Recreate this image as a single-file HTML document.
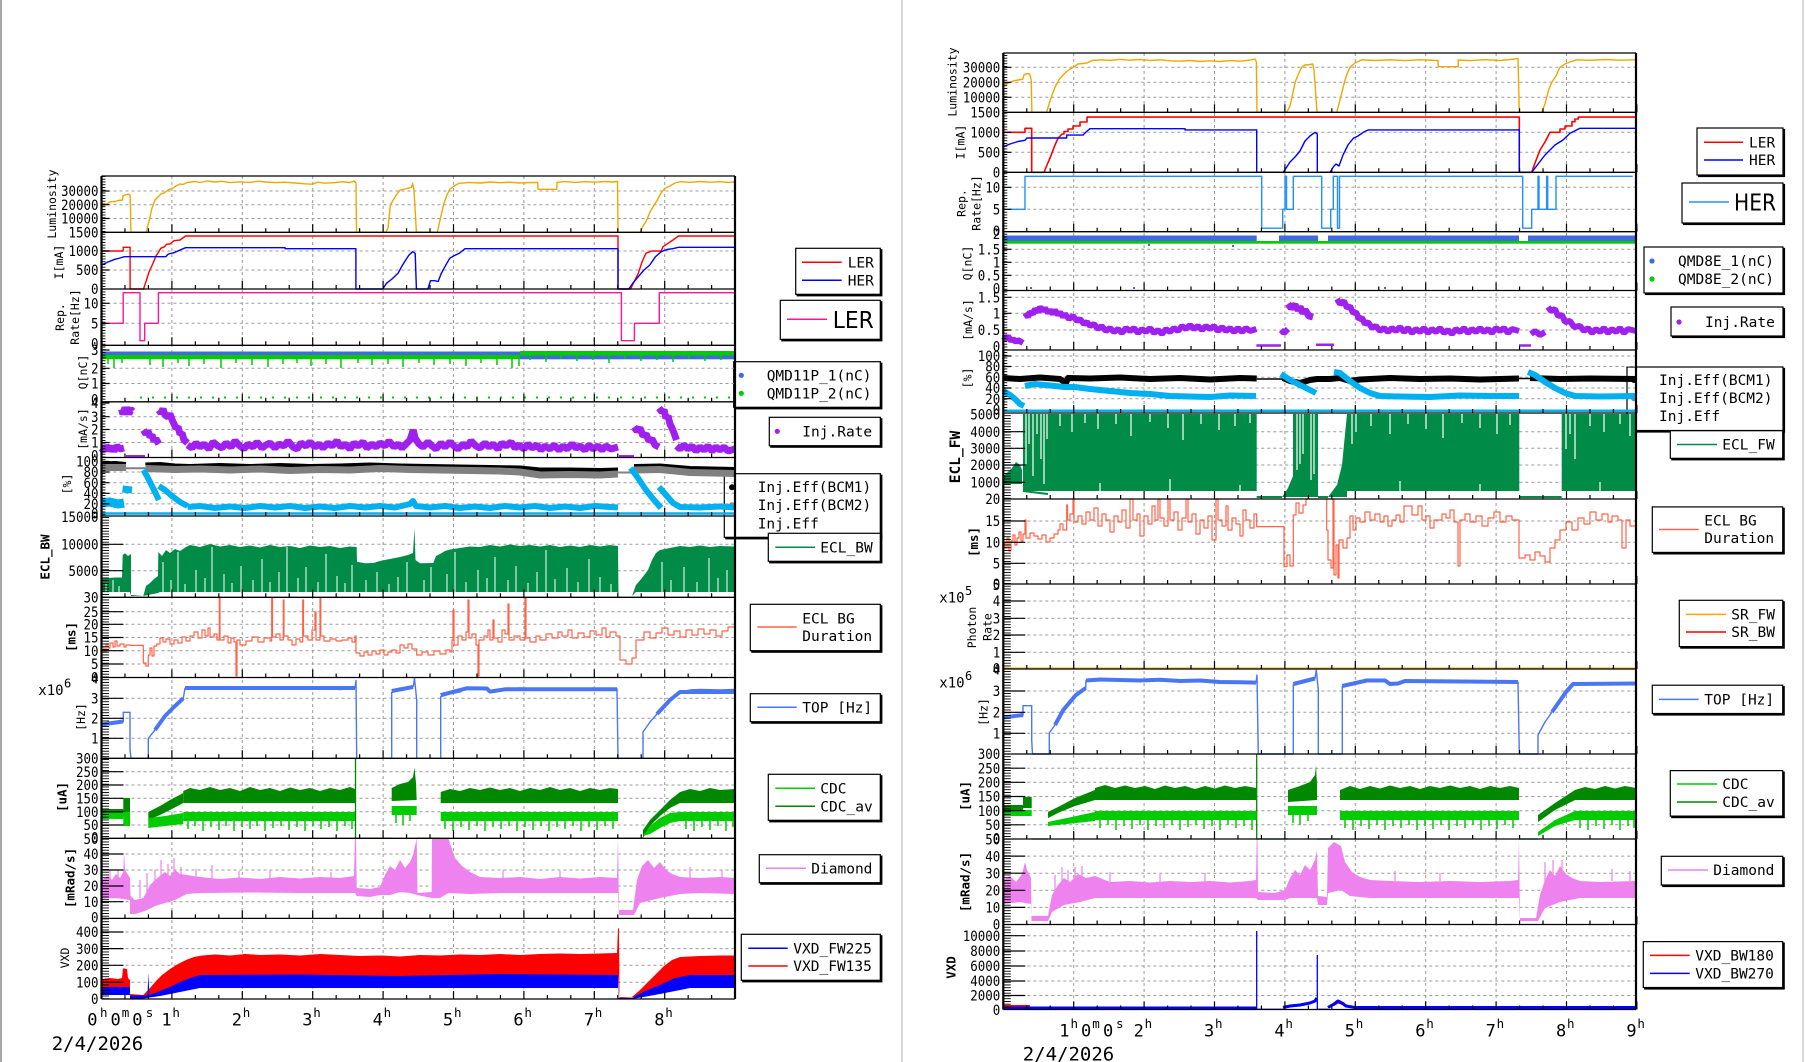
<!DOCTYPE html>
<html><head><meta charset="utf-8"><style>
html,body{margin:0;padding:0;background:#fff;}
body{width:1806px;height:1062px;overflow:hidden;}
svg{display:block;}
text{font-family:"DejaVu Sans Mono","Liberation Mono",monospace;fill:#000;}
.tl{font-size:14.5px;}
.ti{font-size:11.5px;}
.tb{font-size:12.5px;font-weight:bold;}
.lg{font-size:14.5px;}
.big{font-family:"DejaVu Sans","Liberation Sans",sans-serif;font-size:23px;}
.ax{font-size:17px;}
.sup{font-size:12.5px;}
.gr{stroke:#9a9a9a;stroke-width:1;stroke-dasharray:3 3;fill:none;}
.ln{fill:none;stroke-linejoin:round;}
.jg{fill:none;stroke-linejoin:bevel;}
</style></head><body>
<svg width="1806" height="1062" viewBox="0 0 1806 1062" xmlns="http://www.w3.org/2000/svg">
<defs>
<pattern id="cm" x="0" y="0" width="20" height="2.75" patternUnits="userSpaceOnUse"><rect x="0" y="0" width="20" height="0.9" fill="#000"/></pattern>
<path id="xt" d="M0,0v-8M23.47,0v-4M46.93,0v-4M70.4,0v-8M93.87,0v-4M117.33,0v-4M140.8,0v-8M164.27,0v-4M187.73,0v-4M211.2,0v-8M234.67,0v-4M258.13,0v-4M281.6,0v-8M305.07,0v-4M328.53,0v-4M352,0v-8M375.47,0v-4M398.93,0v-4M422.4,0v-8M445.87,0v-4M469.33,0v-4M492.8,0v-8M516.27,0v-4M539.73,0v-4M563.2,0v-8M586.67,0v-4M610.13,0v-4M633.6,0v-8" stroke="#000" stroke-width="1.2" fill="none"/>
</defs>
<rect x="0" y="0" width="1806" height="1062" fill="#fff"/>
<rect x="0" y="0" width="2" height="1062" fill="#a8a8a8"/>
<rect x="901" y="0" width="2" height="1062" fill="#d8d8d8"/>
<rect x="1802" y="0" width="2" height="1062" fill="#d8d8d8"/>

<!-- LEFT LEGENDS -->
<g stroke="#000" stroke-width="1.2">
<rect x="797.2" y="249.8" width="84.6" height="46" fill="#000"/><rect x="795.7" y="248.3" width="84.6" height="46" fill="#fff"/>
<rect x="781.8" y="301.8" width="100" height="39" fill="#000"/><rect x="780.3" y="300.3" width="100" height="39" fill="#fff"/>
<rect x="735.2" y="363.2" width="146.6" height="45.6" fill="#000"/><rect x="733.7" y="361.7" width="146.6" height="45.6" fill="#fff"/>
<rect x="770.8" y="418.8" width="111" height="28.4" fill="#000"/><rect x="769.3" y="417.3" width="111" height="28.4" fill="#fff"/>
<rect x="725.8" y="475.2" width="156" height="63.6" fill="#000"/><rect x="724.3" y="473.7" width="156" height="63.6" fill="#fff"/>
<rect x="769.8" y="534.8" width="112" height="28" fill="#000"/><rect x="768.3" y="533.3" width="112" height="28" fill="#fff"/>
<rect x="751.8" y="605.8" width="130" height="46.4" fill="#000"/><rect x="750.3" y="604.3" width="130" height="46.4" fill="#fff"/>
<rect x="751.8" y="695.2" width="130" height="28" fill="#000"/><rect x="750.3" y="693.7" width="130" height="28" fill="#fff"/>
<rect x="769.8" y="775.8" width="112" height="46" fill="#000"/><rect x="768.3" y="774.3" width="112" height="46" fill="#fff"/>
<rect x="760.8" y="856.2" width="121" height="28" fill="#000"/><rect x="759.3" y="854.7" width="121" height="28" fill="#fff"/>
<rect x="742.8" y="935.8" width="139" height="46" fill="#000"/><rect x="741.3" y="934.3" width="139" height="46" fill="#fff"/>
</g>
<g stroke-width="1.5">
<path d="M802,262.3H841.7" stroke="#ff0000"/><path d="M802,280.3H841.7" stroke="#0000ff"/>
<path d="M787,319.3H827" stroke="#ff1493"/>
<path d="M775.3,547.3H815" stroke="#008c46"/>
<path d="M757.3,627H796.7" stroke="#ff6347"/>
<path d="M757.3,707.3H796.7" stroke="#4a76f5"/>
<path d="M775.3,788.3H815" stroke="#00cc00"/><path d="M775.3,806.3H815" stroke="#008800"/>
<path d="M766,868.3H806" stroke="#ee82ee"/>
<path d="M748.3,948.3H787.7" stroke="#0000ff"/><path d="M748.3,966H787.7" stroke="#ff0000"/>
</g>
<circle cx="741.3" cy="375.3" r="2.6" fill="#4169e1"/><circle cx="741.3" cy="393.3" r="2.6" fill="#00cc00"/>
<circle cx="777.3" cy="431.3" r="2.6" fill="#a020f0"/>
<circle cx="732" cy="487.3" r="3" fill="#000"/><circle cx="732" cy="505.3" r="3" fill="#808080"/>
<g class="lg">
<text x="847.7" y="267.5">LER</text><text x="847.7" y="285.5">HER</text>
<text x="766.7" y="380.5">QMD11P_1(nC)</text><text x="766.7" y="398.5">QMD11P_2(nC)</text>
<text x="802.3" y="436.5">Inj.Rate</text>
<text x="757.7" y="491.9">Inj.Eff(BCM1)</text><text x="757.7" y="510.2">Inj.Eff(BCM2)</text><text x="757.7" y="528.5">Inj.Eff</text>
<text x="820.3" y="552.5">ECL_BW</text>
<text x="802.3" y="623.5">ECL BG</text><text x="802.3" y="641.2">Duration</text>
<text x="802.3" y="712.5">TOP [Hz]</text>
<text x="820.3" y="793.5">CDC</text><text x="820.3" y="811.5">CDC_av</text>
<text x="811.3" y="873.5">Diamond</text>
<text x="793.3" y="953.5">VXD_FW225</text><text x="793.3" y="971.2">VXD_FW135</text>
</g>
<text x="832.7" y="327.8" class="big" textLength="41" lengthAdjust="spacingAndGlyphs">LER</text>

<!-- RIGHT LEGENDS -->
<g stroke="#000" stroke-width="1.2">
<rect x="1698.5" y="129.5" width="86" height="47" fill="#000"/><rect x="1697" y="128" width="86" height="47" fill="#fff"/>
<rect x="1683.5" y="184.5" width="101" height="40" fill="#000"/><rect x="1682" y="183" width="101" height="40" fill="#fff"/>
<rect x="1645.5" y="248.5" width="139" height="46" fill="#000"/><rect x="1644" y="247" width="139" height="46" fill="#fff"/>
<rect x="1672.5" y="308.5" width="112" height="29" fill="#000"/><rect x="1671" y="307" width="112" height="29" fill="#fff"/>
<rect x="1628.5" y="368.5" width="156" height="63.5" fill="#000"/><rect x="1627" y="367" width="156" height="63.5" fill="#fff"/>
<rect x="1671.8" y="432.2" width="112.4" height="27.6" fill="#000"/><rect x="1670.3" y="430.7" width="112.4" height="27.6" fill="#fff"/>
<rect x="1653.8" y="508.4" width="130.4" height="45.5" fill="#000"/><rect x="1652.3" y="506.9" width="130.4" height="45.5" fill="#fff"/>
<rect x="1680.8" y="601.8" width="103.4" height="46.3" fill="#000"/><rect x="1679.3" y="600.3" width="103.4" height="46.3" fill="#fff"/>
<rect x="1653.8" y="686.7" width="130.4" height="28.3" fill="#000"/><rect x="1652.3" y="685.2" width="130.4" height="28.3" fill="#fff"/>
<rect x="1671.8" y="772.1" width="112.4" height="45.5" fill="#000"/><rect x="1670.3" y="770.6" width="112.4" height="45.5" fill="#fff"/>
<rect x="1662.8" y="857.8" width="121.4" height="28.7" fill="#000"/><rect x="1661.3" y="856.3" width="121.4" height="28.7" fill="#fff"/>
<rect x="1644.8" y="943.1" width="139.4" height="45.9" fill="#000"/><rect x="1643.3" y="941.6" width="139.4" height="45.9" fill="#fff"/>
</g>
<g stroke-width="1.5">
<path d="M1704,142.3H1743" stroke="#ff0000"/><path d="M1704,160H1743" stroke="#0000ff"/>
<path d="M1689,202H1729" stroke="#1e90ff"/>
<path d="M1677,444.5H1717" stroke="#008c46"/>
<path d="M1659,529.5H1698.7" stroke="#ff6347"/>
<path d="M1686,614.4H1726" stroke="#ffa500"/><path d="M1686,632H1726" stroke="#ff0000"/>
<path d="M1659,699.4H1698.7" stroke="#4a76f5"/>
<path d="M1677,784H1717" stroke="#00cc00"/><path d="M1677,802H1717" stroke="#008800"/>
<path d="M1668,870H1708" stroke="#ee82ee"/>
<path d="M1650,955.4H1689.7" stroke="#ff0000"/><path d="M1650,973.4H1689.7" stroke="#0000ff"/>
</g>
<circle cx="1652" cy="261" r="2.6" fill="#4169e1"/><circle cx="1652" cy="279" r="2.6" fill="#00cc00"/>
<circle cx="1679" cy="322" r="2.6" fill="#a020f0"/>
<circle cx="1634" cy="380" r="3" fill="#000"/><circle cx="1634" cy="398.3" r="3" fill="#808080"/>
<g class="lg">
<text x="1749" y="147.5">LER</text><text x="1749" y="165.2">HER</text>
<text x="1678" y="266.2">QMD8E_1(nC)</text><text x="1678" y="284.2">QMD8E_2(nC)</text>
<text x="1705" y="327.2">Inj.Rate</text>
<text x="1659" y="385.2">Inj.Eff(BCM1)</text><text x="1659" y="403.2">Inj.Eff(BCM2)</text><text x="1659" y="421.2">Inj.Eff</text>
<text x="1722.3" y="449.7">ECL_FW</text>
<text x="1704.3" y="525.5">ECL BG</text><text x="1704.3" y="543.1">Duration</text>
<text x="1731.3" y="619.6">SR_FW</text><text x="1731.3" y="637.2">SR_BW</text>
<text x="1704.3" y="704.6">TOP [Hz]</text>
<text x="1722.3" y="789.2">CDC</text><text x="1722.3" y="807.2">CDC_av</text>
<text x="1713.3" y="875.2">Diamond</text>
<text x="1695.3" y="960.6">VXD_BW180</text><text x="1695.3" y="978.6">VXD_BW270</text>
</g>
<text x="1734" y="210.5" class="big" textLength="42" lengthAdjust="spacingAndGlyphs">HER</text>

<!-- GRIDS -->
<path class="gr" d="M171.9,176V999M242.3,176V999M312.7,176V999M383.1,176V999M453.5,176V999M523.9,176V999M594.3,176V999M664.7,176V999"/>
<path class="gr" d="M101.5,191H735M101.5,204.7H735M101.5,218.5H735M101.5,251H735M101.5,270H735M101.5,303.3H735M101.5,323.3H735M101.5,368.3H735M101.5,383.5H735M101.5,416.7H735M101.5,429.5H735M101.5,442.5H735M101.5,472H735M101.5,482.7H735M101.5,493.3H735M101.5,503.9H735M101.5,544.3H735M101.5,570.7H735M101.5,611.7H735M101.5,624.3H735M101.5,637.5H735M101.5,650.7H735M101.5,664H735M101.5,698.3H735M101.5,718.3H735M101.5,738.3H735M101.5,771.7H735M101.5,785H735M101.5,798.3H735M101.5,811.7H735M101.5,825H735M101.5,854H735M101.5,870H735M101.5,886H735M101.5,901.7H735M101.5,932H735M101.5,948.6H735M101.5,965.3H735M101.5,982.3H735"/>
<path class="gr" d="M1073.7,53V1009.5M1144.1,53V1009.5M1214.5,53V1009.5M1284.9,53V1009.5M1355.3,53V1009.5M1425.7,53V1009.5M1496.1,53V1009.5M1566.5,53V1009.5"/>
<path class="gr" d="M1003.3,67.3H1636M1003.3,82.3H1636M1003.3,97.3H1636M1003.3,132.3H1636M1003.3,152.3H1636M1003.3,187.3H1636M1003.3,209.3H1636M1003.3,249.3H1636M1003.3,262.3H1636M1003.3,275.3H1636M1003.3,297.3H1636M1003.3,313.3H1636M1003.3,330H1636M1003.3,356H1636M1003.3,366.5H1636M1003.3,377.3H1636M1003.3,388H1636M1003.3,398.7H1636M1003.3,431.7H1636M1003.3,448.3H1636M1003.3,465H1636M1003.3,482.3H1636M1003.3,521H1636M1003.3,542.3H1636M1003.3,563.3H1636M1003.3,601H1636M1003.3,618.3H1636M1003.3,635H1636M1003.3,652.3H1636M1003.3,691H1636M1003.3,712.3H1636M1003.3,733.3H1636M1003.3,768.2H1636M1003.3,782.3H1636M1003.3,796.5H1636M1003.3,810.7H1636M1003.3,824.8H1636M1003.3,856.1H1636M1003.3,873.2H1636M1003.3,890.3H1636M1003.3,907.4H1636M1003.3,935.7H1636M1003.3,951H1636M1003.3,966H1636M1003.3,981H1636M1003.3,995.5H1636"/>

<!-- LEFT DATA -->
<path class="ln" stroke="#f0a800" stroke-width="1.4" d="M101.5,206.7L105,205L108,203L111,201.7L115,201.5L118,200.5L122.5,200L123,196L124.4,195L127,194.5L129.4,194.3L130.2,196L130.9,232.3L146.2,232.3L149.3,220L152,208L155,200L158,197L161,194L164.6,192.7L168,190L172.2,188.3L176,186L180,184L183,184.5L187.5,182.3L195,181.5L200,182.5L207,181L215,182L222,181.3L230,182.6L240,181.8L250,182.4L258,181.2L266,182L275,182.6L285,182.2L295,183L305,183.8L312,184.2L318,182.2L325,183.2L335,182.6L343,181.8L350,182.5L354,181L356,183L356.5,232.3L385.8,232.3L388,228L390.4,204.7L395,197L400,190L405,189L411.4,187.3L412.6,183.3L414,190L416.4,232.3L437.4,232.3L440,220L444,203.3L447,195L449.7,189.3L454,186L459.2,183.3L470,182.4L480,183L490,182L500,182.7L510,182.2L520,183L530,182.5L537.7,182.5L538,189.3L556.8,189.3L557,182.3L565,181.6L575,182.4L585,181.7L595,182.2L605,181.5L612,182L617.5,181.5L618,232.3L640.2,232.3L643,226L646,221.7L650,212L654,205L657.4,200L661,193L665,188.3L670,186L675,183L680.4,181.7L690,182.3L700,181.5L710,182.2L720,181.7L728,182.4L735,182"/>
<path class="ln" stroke="#ff0000" stroke-width="1.4" d="M101.5,251L123.2,251L123.2,247.3L130.1,247.3L130.1,289L143.5,289L145.4,283.3L149,272L153,263.3L156,256L158.8,251.7L160.7,248.3L164.6,246.7L166.5,244.3L170,244L174,240.7L180,240L185.6,236L618,236L618,289L630.6,289L634,282L638.3,273.3L642,262L645.9,253.3L651.7,251L661.2,251L663,246.7L668.9,242.7L673,240L678.5,236L735,236"/>
<path class="ln" stroke="#0000ff" stroke-width="1.4" d="M101.5,265L108,262L114.8,259.3L120,258L124.4,256.7L165.7,256.7L168.4,254L174.1,252.7L180,250L185.6,247.7L285.1,247.7L285.1,248.7L355.9,248.7L355.9,289L382.7,289L386.5,283.3L392,279L398,273.3L402,266L405.7,260L409,255L412.6,251.7L415.2,253.3L416.4,289L427.9,289L430.5,280.7L434.4,280.7L438.2,281.5L441,274L444,268.3L449.7,258.3L453.5,256L459.2,253.3L465,248.7L618,248.7L618,289L628.7,289L633,283L638.3,276.7L644,270L649.8,265L655.5,256.7L661.2,251.7L667,249.5L672.7,248.7L678.5,247.3L735,247.3"/>
<path class="ln" stroke="#ff1493" stroke-width="1.4" d="M101.5,323.3H123.2V292.7H140V340.7H144.7V323.3H158.4V292.7H621.4V340.7H634.4V323.3H659.3V292.7H735"/>
<rect x="101.5" y="351.5" width="418.5" height="4" fill="#4169e1"/>
<rect x="520" y="355.5" width="215" height="3.8" fill="#4169e1"/>
<rect x="101.5" y="355" width="418.5" height="4.2" fill="#00cc00"/>
<rect x="520" y="351" width="215" height="4.5" fill="#00cc00"/>
<path stroke="#00cc00" stroke-width="1.5" fill="none" d="M108,359v5M114,359v9M122,359v4M150,359v6M163,359v8M178,359v4M189,359v7M204,359v5M221,359v9M236,359v4M252,359v6M268,359v8M283,359v5M297,359v4M311,359v7M326,359v5M341,359v9M358,359v4M372,359v6M388,359v5M403,359v8M419,359v4M434,359v6M450,359v5M466,359v7M481,359v4M497,359v6M512,359v9M519,359v7M530,355v5M546,355v7M561,355v4M577,355v6M593,355v5M609,355v8M625,355v4M641,355v6M657,355v5M673,355v7M689,355v4M705,355v6M721,355v5"/>
<path stroke="#00cc00" stroke-width="2" stroke-dasharray="2 10" d="M140,397.5H735"/>
<g class="jg" stroke="#a020f0">
<path stroke-width="7" d="M101.5,448L104,451L106,446L109,450L112,447L114,451L117,446L120,449L124,448"/>
<path stroke-width="9" d="M122.5,409L124,414L126,408L128,413L130,410L132,412"/>
<path stroke-width="2.5" d="M126,456.3H145"/>
<path stroke-width="7" d="M143.5,430L146,434L148,431L150,437L152,435L154,441L156,439L158.8,444"/>
<path stroke-width="7" d="M158.8,410L161,413L163,409L165,415L168,417L170,414L172.2,420L174,424L176,428L178,427L180,434L182,433L184,440L187.5,443"/>
<path stroke-width="7" d="M187.5,445L192,448L196,443L200,447L204,444L209,449L213,442L218,446L222,448L226,443L231,447L235,441L240,446L244,449L248,444L253,447L257,442L262,448L266,445L270,443L275,448L279,444L284,446L288,441L293,447L297,449L301,443L306,446L310,442L315,447L319,444L323,448L328,443L332,446L337,441L341,447L345,444L350,449L354,443L358,446L363,442L367,448L372,444L376,447L380,443L385,446L389,441L394,447L398,444L402,448L406,444L410,440L413.3,430L415,438L419,444L423,447L428,442L432,446L436,449L441,443L445,447L450,442L454,446L458,449L463,444L467,447L471,441L476,446L480,448L485,443L489,447L493,444L498,449L502,443L506,446L511,442L515,448L519,445L524,449L528,444L532,448L537,445L541,450L545,446L550,449L554,445L559,450L563,446L567,449L572,444L576,448L580,446L585,450L589,445L593,449L598,446L602,450L606,446L611,449L618,447"/>
<path stroke-width="2.5" d="M619,456.3H634"/>
<path stroke-width="7" d="M634,427L637,431L640,428L643,436L646,434L649,441L652,439L655,445L659,447"/>
<path stroke-width="7" d="M659,408L662,412L664,410L666,418L668,416L670,424L672,428L674,433L676.5,440"/>
<path stroke-width="7" d="M676.5,446L680,449L684,445L688,449L692,446L696,451L700,447L704,450L708,446L712,451L716,447L720,450L724,447L728,451L735,449"/>
</g>
<g class="ln">
<path stroke="#000" stroke-width="4" d="M101.5,463.5L115,463L126,464M145.4,464.5L160,464L175,465.5L190,466L220,465L250,466L280,465L310,466L340,465.5L370,464.5L400,465.5L430,466L460,466.5L490,467L520,467.5L540,469.5L570,469.5L600,470L618,469.5M634,466L660,465.5L690,468L735,469"/>
<path stroke="#808080" stroke-width="7" d="M101.5,467.5L126,467.5M145.4,468.5L175,469.5L200,469L230,470L260,469L290,470.5L320,469.5L350,470L380,468.5L410,469.5L440,470L470,470.5L500,471L520,472L540,475L570,474.5L600,475L618,474M634,470L660,469.5L690,472.5L735,473.5"/>
<path stroke="#808080" stroke-width="2" d="M126,468.3H145.4M618,472.5H634"/>
<path stroke="#00b0f0" stroke-width="9" d="M101.5,503L110,502L118,504L124,503"/>
<path stroke="#00b0f0" stroke-width="7" d="M122.5,489L132,490"/>
<path stroke="#00b0f0" stroke-width="6" d="M143.5,470L148,478L152,486L156,494L158.8,500M158.8,486L165,490L172,496L180,502L187.5,506M187.5,507L200,506L215,508L230,506.5L245,508L260,506L275,507.5L290,506L305,508L320,506.5L335,508L350,506L365,507.5L380,506L395,507.5L410,504L413,501L416,506L430,507.5L445,506L460,508L475,506.5L490,508L505,506L520,507.5L535,506L550,508L565,506.5L580,508L595,506L618,507.5M630.6,468L638,478L646,490L654,500L661,508M659,487L666,495L673,503L680,507L700,507.5L720,506.5L735,507.5"/>
<path stroke="#00b0f0" stroke-width="2.5" d="M101.5,513.5H735"/>
</g>
<path fill="#008c46" d="M101.5,578.3L108,578L115,577.5L122,577.5L122.7,555L125,553.3L128,556L131,554L131,595L143.3,596L146,586L150,583L154,579L158,576L158.3,552L162,556L166,550L170,553L175,549L180,551L186,547L190,545L200,547L210,544L220,546.5L230,545L240,547L250,545.5L260,547.5L270,545L280,547L290,546L300,548L310,545.5L320,547L330,546L340,548L350,546.5L356.7,547L357,561.7L365,563.3L373.3,563L380,561L390,559L400,557L408,555L413,553L414.5,528.3L415.5,560L420,563.3L433.3,563L436,556L440,554L445,551L450,549.5L460,548L470,546.5L480,547L490,545L500,546.5L510,544.5L520,546L530,545L540,546.5L550,545L560,547L570,545.5L580,547L590,545L600,546.5L610,545L617,546L618,546L618.5,596L632,596L636,585L642,578L648,570L652,560L656,553L660,550L670,548L680,546L690,547L700,545.5L710,547L720,546L735,546.5L735,592L636,592L632,596L618.5,596L617,592L160,592L158,593L143.3,596L131,596L130,592L101.5,592Z"/>
<path stroke="#fff" stroke-width="1" fill="none" d="M106,592v-9M113,592v-12M119,592v-6M163,592v-30M171,592v-12M178,592v-40M185,592v-8M196,592v-22M205,592v-14M212,592v-45M224,592v-18M232,592v-9M241,592v-26M253,592v-12M262,592v-33M270,592v-10M279,592v-20M287,592v-45M298,592v-14M306,592v-25M318,592v-10M326,592v-38M337,592v-16M345,592v-9M352,592v-27M366,592v-12M377,592v-20M389,592v-8M398,592v-15M407,592v-30M424,592v-12M431,592v-25M447,592v-18M455,592v-40M466,592v-10M478,592v-22M487,592v-14M495,592v-35M508,592v-12M516,592v-26M528,592v-9M537,592v-20M546,592v-42M555,592v-13M567,592v-24M578,592v-10M589,592v-33M600,592v-15M611,592v-8M662,592v-30M671,592v-12M684,592v-25M697,592v-10M709,592v-34M718,592v-14M727,592v-22"/>
<path class="ln" stroke="#ff6347" stroke-width="1.2" d="M101.5,647H104V652H106V644H108V648H110V643H113V647H115V641H117V646H120V644H124V647H126V645H130V645.4H143.3V663H146V666H148.3V655H150V648H152V656H154V646H156.7V644H160V638H163V642H166V639H170V644H174V640H178V643H182V637H186V641H190V636H194V632H198V638H202V630H205V636H208V628H210V637H214V634H217V640H219.3V597.5H220V640H224V636H228V643H231V638H234V642H236V676H237V640H240V645H246V641H252V637H258V642H264V638H270V641H271.7V597.5H272.5V637H276V634H280V640H283.3V600H284V636H288V640H292V645H296V639H300V642H302.7V600H303.5V636H308V640H312V630H315V612H316V640H320V598H320.8V636H324V641H330V639H336V641H342V640H348V638H352V642H355V636H356V653H360V656H364V652H368V655H372V651H376V654H380V650H384V655H388V652H392V650H396V653H400V645H404V648H408V644H412V649H416.7V655H422V652H428V655H434V651H440V654H446V650H450V652H452V640H453V610H454V645H458V636H462V640H466V632H468V600H469V638H472V634H476V645H478V676H479V640H484V636H488V630H490V640H493V620H494V638H498V642H502V630H505V634H508V604H509V640H514V636H520V640H525V597.5H526V638H530V642H536V636H540V640H546V634H552V638H558V632H562V636H568V630H572V638H578V633H584V637H590V631H596V635H602V628H606V637H610V632H616V636H620V660H626V664H632V658H636V640H644V632H650V638H656V633H662V628H668V635H674V631H680V637H686V630H692V635H698V629H704V634H710V630H716V636H722V631H728V627H735V630"/>
<path class="ln" stroke="#4a76f5" stroke-width="1.4" d="M101.5,725.3L110,723.5L118,722.5L123.3,721.5L123.3,712.3L130,712.3L130,750L131,758.3L148.3,758.3L148.3,738.3L155,730L160,722L165,716L170,710L175,706L180,702L183.3,698.3L185,688.3L200,687.5L220,688.3L240,687.2L260,688L280,687.5L300,689L320,688L340,689.5L355,688L356,680.3L356.7,758.3L391.7,758.3L391.7,692.3L400,690L410,688L413.3,686.3L414.5,678.3L416.7,700L416.7,758.3L440.7,758.3L440.7,696.7L450,694L460,692L466.7,688.3L486.7,688.5L490,691.6L500,691L505,689.3L520,688L540,689.3L560,688.5L580,689L600,688.3L617,688.8L618,758.3L643,758.3L643,732L650,722L657,714L664,706L670,700L676,695L680,692L690,690L700,689.5L720,690L735,689.5"/>
<path class="ln" stroke="#4a76f5" stroke-width="4" d="M101.5,724.5L123,721.5M155,730L165,716L175,706L183.3,698.3M185,688H355M391.7,691L413,687M440.7,695L466.7,688.3L486.7,688.5L490,691.6L505,689.3H617M657,714L670,700L680,692H735"/>
<g fill="#008800">
<rect x="101.5" y="809" width="21.8" height="8"/>
<rect x="123.3" y="798" width="6.7" height="14"/>
<path d="M148.3,812L160,806L170,800L183.3,793L183.3,803L170,810L160,815L148.3,820Z"/>
<path d="M183.3,791L190,788L200,790L210,787L220,790L230,788L240,791L250,787L260,790L270,788L280,791L290,787.5L300,790L310,788L320,791L330,788L340,790L350,787L355,789L355,803L183.3,803Z"/>
<path d="M391.7,788L400,784L408,782L413,777L414.5,767.5L416,783L416.7,800L391.7,801Z"/>
<path d="M440.7,792L450,789L460,791L470,788L480,790L490,787.5L500,790L510,788L520,791L530,788L540,790L550,787L560,790L570,788L580,791L590,788L600,790L610,788L618,789L618,803L440.7,803Z"/>
<path d="M643,830L650,820L660,810L670,800L680,792L690,789L700,791L710,788L720,790L735,789L735,803L680,803L670,808L660,816L650,826L643,838Z"/>
</g>
<path stroke="#008800" stroke-width="1.3" fill="none" d="M355.5,838V758.3M130,838.3H148.3M356.7,838.3H391.7M416.7,838.3H440.7M618,838.3H643"/>
<g fill="#00cc00">
<rect x="101.5" y="813" width="21.8" height="6"/>
<rect x="123.3" y="812" width="6.7" height="14"/>
<path d="M148.3,818L165,816L183.3,813L183.3,824L165,826L148.3,828Z"/>
<rect x="183.3" y="812" width="171.7" height="9"/>
<rect x="391.7" y="806" width="25" height="9"/>
<rect x="440.7" y="812" width="177.3" height="9"/>
<path d="M643,836L650,826L660,818L670,813L680,812L735,812L735,821L680,821L670,823L660,828L650,834Z"/>
</g>
<path stroke="#00cc00" stroke-width="1.5" fill="none" d="M188,821v8M195,821v5M203,821v10M211,821v6M219,821v9M226,821v5M234,821v10M242,821v6M250,821v8M257,821v5M265,821v10M273,821v7M281,821v5M289,821v9M297,821v6M305,821v10M313,821v5M321,821v8M329,821v6M337,821v10M345,821v5M352,821v8M396,815v8M403,815v10M410,815v6M445,821v8M453,821v10M461,821v6M469,821v9M477,821v5M485,821v10M493,821v6M501,821v8M509,821v5M517,821v10M525,821v6M533,821v9M541,821v5M549,821v10M557,821v6M565,821v8M573,821v5M581,821v10M589,821v6M597,821v9M605,821v5M613,821v8M686,821v8M694,821v10M702,821v6M710,821v9M718,821v5M726,821v10M733,821v6"/>
<path fill="#ee82ee" d="M101.5,880L108,876L112,880L116,874L120,878L123.3,872L124,851L125,870L130,878L130.5,896L135,900L143.3,898L150,885L155,880L160,876L165,872L170,876L175,870L180,874L186.7,875L200,877L220,879L240,877.5L260,879L280,877L300,878.5L320,877L340,878L354,876L355,838.3L356,838.3L356.7,888L370,889L380,887L385,875L390,866L395,870L400,860L405,868L410,862L413,855L416.7,838.3L417.5,893L431.7,892L432,838.3L448.3,838.3L455,858L462,866L470,872L480,877L500,878L520,877L540,879L560,877L580,878.5L600,877L617,878L618,838.3L619,910L633,910L637,880L642,866L648,860L654,868L660,862L666,870L672,874L680,877L700,878L720,877L735,878L735,894L700,893L680,894L660,898L640,903L634,915L619,915L618,893L560,893L500,893L470,894L448.3,893L440,898L431.7,898L417,895L410,893L400,892L390,895L380,895L370,897L356.7,896L355,893L300,893L250,892.5L200,893L186.7,894L175,900L165,903L155,906L145,911L135,914L130,914L130,900L123,899L115,898L101.5,899Z"/>
<path stroke="#ee82ee" stroke-width="1.2" fill="none" d="M140,898v-18M147,895v-22M155,890v-20M161,885v-25M168,882v-18M174,880v-22M181,879v-12M196,879v-10M212,879v-14M239,879v-8M270,879v-9M331,879v-7M110,880v-10M118,878v-8M503,879v-9M560,879v-8M690,879v-12M722,879v-9"/>
<path fill="#ff0000" d="M101.5,979L110,978L118,979L122,978L123,968.3L127,969L128,978L130,980L130,994L143.3,995L150,988L156,981L162,975L170,969L178,964L186,960L194,957L202,955.5L215,954.5L230,955.5L245,954L260,955L280,954.5L300,955.5L320,954L340,955L360,956L380,955.5L400,956.5L420,955L440,955.5L460,954.5L480,955L500,954L520,955L540,954L560,953.5L580,954L600,953.5L617,953L618,928.4L619,928.4L619.5,997L632,997L640,990L648,982L656,974L664,966L672,960L680,957L700,956L720,955.5L735,955.5L735,976L680,977L670,982L660,988L650,993L640,997L619.5,998L618,976L200,976L190,978L180,983L170,988L160,992L150,996L143.3,998L130,998L130,987L101.5,987Z"/>
<path fill="#0000ff" d="M101.5,987L130,987L130,995.5L147.5,995.5L148.3,973.3L149.5,995L160,991L170,987L180,982L190,978L200,975L300,974.5L400,976L500,974L618,975L618.5,998L632,998L645,991L660,985L675,978L690,975L735,975L735,988L690,988L660,994L632,999L618,999L618,988L200,988L180,992L160,996L143.3,998.5L130,998.5L130,995L101.5,995Z"/>

<!-- RIGHT DATA -->
<path class="ln" stroke="#f0a800" stroke-width="1.4" d="M1003.3,85.3L1008,83.5L1013.6,80.8L1018,80L1022.7,79.3L1024,74.8L1027,73.5L1029.8,74L1031.2,80L1031.9,112.3L1046.6,112.3L1049,104L1052.3,94.3L1056,85L1059.3,79.3L1063,75L1066.4,71.8L1070,69L1073.4,67.3L1078,64L1083,63.5L1087.5,62.8L1092,60.5L1101.6,59.8L1110,60.5L1120,59.3L1130,60.2L1140,59.5L1150,60.5L1160,59.8L1170,60.8L1180,61.2L1190,60.5L1200,61.5L1210,60.8L1220,61.5L1230,60.6L1240,61.2L1250,60L1255,59L1256.4,62L1257,112.3L1286.7,112.3L1290,106L1295.2,82.3L1298,75L1301.5,67.3L1305,65L1310,64.5L1312.8,64L1314,70L1317,112.3L1336.7,112.3L1340,100L1344.4,82.3L1347,74L1350,67.3L1355,63L1362,59.8L1375,60.5L1390,59.8L1405,60.6L1420,59.8L1438,60.5L1438.3,66.7L1458.3,66.7L1458.3,60L1470,60.6L1485,59.7L1500,60.5L1510,59.6L1518,58.5L1519.3,112.3L1541.7,112.3L1545,104L1548.6,89.8L1552,82L1556,76L1559.9,67.3L1565,64L1570,62L1576.7,59.8L1590,60.3L1605,59.5L1620,60.2L1636,59.8"/>
<path class="ln" stroke="#ff0000" stroke-width="1.6" d="M1003.3,132.3H1025V128.3H1031.7V172.3H1044L1047,165L1050,158L1055,145L1058,138.3L1062,134H1064V131.5H1068V129H1073V126H1080V122H1087V117.1H1519.3V172.3H1531.7L1535,163L1540,150L1545,142L1550,132.3H1560V129H1565V126H1572V121.7H1575V119H1578.3V117.1H1636"/>
<path class="ln" stroke="#0000ff" stroke-width="1.4" d="M1003.3,146.7L1010,144L1018,141.5L1025,140.3L1027,138H1066.7V135.1H1083L1086,132L1090,128.7H1185V129.9H1256.7V172.3H1283.3L1290,162L1295,157L1300,151L1305,141L1310,136L1315,132.3L1317.3,134L1317.3,172.3H1330L1334,166L1336,164L1339,166L1343,155L1348,145L1353.3,138.3L1358,136L1363.3,132.3L1368.3,129.9H1519.3V172.3H1531.7L1545,155L1555,145L1563,140L1570,133.3L1580,128.3H1636"/>
<path class="ln" stroke="#1e90ff" stroke-width="1.4" d="M1003.3,209.3H1025V176.3H1261.7V228.2H1282.7V209.3H1285V176.3H1286.5V209.3H1293.3V176.3H1321.7V228.2H1330.7V209.3H1333.3V176.3H1337.5V228.2H1339.5V176.3H1522.7V228.2H1531.7V209.3H1538V176.3H1539V209.3H1546.7V176.3H1547.7V209.3H1556V176.3H1632.7"/>
<g fill="#4169e1">
<rect x="1003.3" y="235.5" width="253.4" height="5.7"/>
<rect x="1279" y="235.5" width="39" height="5.7"/>
<rect x="1328" y="235.5" width="191" height="5.7"/>
<rect x="1528" y="235.5" width="108" height="5.7"/>
<rect x="1148" y="244" width="2" height="2"/><rect x="1232" y="245" width="2" height="2"/><rect x="1030" y="287" width="2" height="2"/><rect x="1133" y="287" width="2" height="2"/><rect x="1384" y="287" width="2" height="2"/>
</g>
<rect x="1003.3" y="241" width="632.7" height="2.7" fill="#00cc00"/>
<g class="jg" stroke="#a020f0">
<path stroke-width="6" d="M1003.3,336.5L1006,339L1008,336L1011,341L1013,339L1016,342L1018,340L1023,343"/>
<path stroke-width="6" d="M1025,313L1028,317L1030,312L1033,314L1035,309L1038,312L1040,307L1043,311L1045,308L1048,313L1050,310L1053,314L1055,310L1058,315L1060,312L1063,317L1065,314L1069,319L1073,316L1077,321L1080,319L1084,324L1087,322L1090,326L1094,324L1098,329L1101.6,326L1106,331L1110,328L1114,332L1118,329L1122,333L1126,328L1130,331L1134,328L1138,333L1142,329L1146,332L1150,328L1154,333L1158,330L1162,334L1166,329L1170,332L1174,328L1178,331L1182,326L1186,329L1190,325L1194,329L1198,326L1202,330L1206,326L1210,329L1214,326L1218,331L1222,327L1226,331L1230,328L1234,332L1238,328L1242,332L1246,328L1250,331L1256.4,329"/>
<path stroke-width="2.5" d="M1256.4,345.5H1281M1316,344.7H1334M1519,345.5H1531"/>
<path stroke-width="6" d="M1281,330L1284,333L1288,329M1531,334L1535,331L1540,335L1545,332"/>
<path stroke-width="7" d="M1288,303.8L1291,308L1295,305L1298,310L1300,307L1303,313L1305,310L1309,316L1313,317"/>
<path stroke-width="6" d="M1337,299L1340,304L1344,301L1347,308L1350,306L1353,313L1356,312L1359,319L1362,318L1365,324L1368,322L1372,328L1376,326L1380,331L1384,328L1388,332L1392,328L1396,331L1400,327L1404,332L1408,328L1412,333L1416,329L1420,332L1424,328L1428,333L1432,329L1436,332L1440,328L1444,333L1448,330L1452,334L1456,329L1460,332L1464,328L1468,333L1472,329L1476,332L1480,328L1484,332L1488,329L1492,333L1496,328L1500,331L1504,328L1508,333L1512,329L1519,331"/>
<path stroke-width="6" d="M1548,307L1551,311L1555,309L1558,316L1562,315L1565,322L1570,321L1574,327L1580,326L1584,331L1588,328L1592,333L1596,329L1600,332L1604,328L1608,333L1612,329L1616,332L1620,328L1624,333L1628,329L1636,331"/>
</g>
<g class="ln">
<path stroke="#000" stroke-width="6" d="M1003.3,378L1020,379L1040,377.5L1060,379L1066,383L1068,378L1090,378.5L1120,377.5L1150,379L1180,378L1210,379.5L1240,378L1256.7,378.5M1283,378L1290,381L1300,383L1310,380L1317,379L1330,379L1340,378L1350,381L1360,379.5L1390,378L1420,379L1450,378.5L1480,379.5L1519,378.5M1530,378L1560,379L1590,378.5L1636,379"/>
<path stroke="#000" stroke-width="1.5" d="M1256.7,379H1283M1519,378.5H1530"/>
<path stroke="#00b0f0" stroke-width="6" d="M1003.3,391L1010,395L1015,399L1020,404L1024,406M1025,386L1035,384L1045,385L1055,386L1065,387L1075,387L1090,389L1110,391L1130,393L1150,394L1170,396L1190,396.5L1210,397L1230,395.5L1256,396M1281,374L1290,380L1300,385L1310,390L1316,393M1334,372L1340,373L1350,381L1360,388L1370,393L1380,396L1400,396.5L1430,397L1460,395.5L1490,396L1519,396M1528,372L1535,375L1545,382L1555,388L1565,393L1575,396L1600,396.5L1636,396"/>
<path stroke="#00b0f0" stroke-width="2.5" d="M1003.3,410.8H1636"/>
</g>
<g fill="#008c46">
<path d="M1003.3,476L1008,472L1012,468L1016,462L1020,465L1022,470L1022,484L1003.3,484Z"/>
<rect x="1023" y="414" width="233.7" height="77"/>
<path d="M1282,497L1288,488L1293,476L1293,497Z"/>
<rect x="1293" y="414" width="25" height="83"/>
<path d="M1328,497L1337,485L1342,465L1347,414L1347,497Z"/>
<rect x="1347" y="414" width="172.3" height="77"/>
<rect x="1561.7" y="414" width="74.3" height="77"/>
</g>
<path stroke="#008c46" stroke-width="2" fill="none" d="M1256.7,497H1282M1318,497H1328M1519.3,497H1561.7M1023,491L1048,494"/>
<path stroke="#fff" stroke-width="1.2" fill="none" d="M1026,414v50M1029,414v30M1033,414v62M1037,414v20M1041,414v45M1044,414v70M1047,414v25M1060,414v12M1072,414v18M1085,414v9M1098,414v15M1116,414v10M1131,414v22M1150,414v8M1168,414v14M1183,414v26M1201,414v10M1219,414v16M1235,414v12M1250,414v9M1297,414v56M1300,414v50M1303,414v40M1311,414v66M1314,414v60M1352,414v30M1356,414v18M1371,414v12M1390,414v20M1408,414v10M1426,414v15M1443,414v24M1462,414v9M1480,414v14M1497,414v20M1510,414v11M1566,414v35M1570,414v20M1575,414v45M1590,414v12M1604,414v18M1620,414v10M1630,414v22M1100,491v-8M1170,491v-12M1240,491v-6M1400,491v-10M1480,491v-7M1600,491v-9"/>
<path class="ln" stroke="#ff6347" stroke-width="1.2" d="M1003.3,543H1005V548H1007V538H1009V551H1011V541H1013V535H1015V545H1017V538H1019V532H1021V541H1023V534H1025V520H1026V538H1030V533H1034V536H1038V539H1042V535H1046V542H1050V538H1054V534H1058V530H1060V524H1063V530H1066.7V505H1067.5V520H1070V514H1073V499H1074V522H1078V516H1082V524H1086V512H1090V520H1094V508H1098V526H1102V514H1106V520H1110V532H1114V516H1118V522H1122V510H1126V528H1130V499H1133V520H1137V514H1140V536H1144V516H1148V524H1152V506H1155V520H1158V499H1160V518H1164V526H1168V499H1170V520H1174V512H1178V530H1182V518H1186V499H1188V522H1192V514H1196V534H1200V520H1204V528H1208V516H1212V540H1216V499H1218V520H1222V526H1226V506H1228V530H1232V518H1236V524H1240V536H1243V510H1246V520H1250V528H1254V514H1256.7V526.6H1284V566.7H1287V555H1290V566H1293.3V515H1296V503H1299V513H1303V505H1306V499H1310V499H1326.7V530H1328V560H1331V568H1333V499H1334V575H1336V545H1338V578H1339V540H1343V548H1347V538H1350V516H1353V530H1356V518H1360V522H1365V512H1370V520H1375V514H1380V522H1384V516H1388V526H1392V520H1396V515H1400V522H1404V506H1412V515H1418V506H1422V520H1426V516H1430V528H1434V520H1438V520H1442V514H1446V518H1450V510H1454V522H1458V566H1460V520H1465V514H1470V522H1476V516H1482V526H1488V518H1494V512H1500V522H1506V516H1512V520H1519V558H1525V555H1530V560H1535V552H1540V556H1545V562H1550V548H1555V540H1560V530H1566V522H1572V530H1578V518H1584V524H1590V512H1596V520H1602V514H1608V522H1612V516H1618V520H1622V548H1626V520H1630V526H1636V520"/>
<path stroke="#ffa500" stroke-width="1.5" d="M1003.3,668.3H1636"/>
<path class="ln" stroke="#4a76f5" stroke-width="1.4" d="M1003.3,718.3L1010,717L1016,716L1023,715.2L1023,705.7L1031.7,705.7L1031.7,740L1032.5,754L1049.3,754L1049.3,733L1055,725L1063.3,709.9L1070,703L1075.7,695.2L1080,692L1085.7,688L1086,680.5L1100,679.5L1120,680L1140,680.5L1160,679.8L1180,681L1200,680.5L1220,682L1240,682.3L1256,682.6L1257,675L1258.3,754L1293.3,754L1293.3,684.7L1300,683L1310,680L1315,678.4L1316.3,670L1318.3,690L1318.3,754L1342.3,754L1342.3,686.8L1350,684L1360,682L1366.7,680.5L1385,680.5L1390,684L1398,683.5L1405,681L1420,681.5L1440,682L1460,681.5L1480,682L1500,681.5L1518,682L1519.3,754L1538,754L1538,735L1545,722L1552,712L1560,700L1566,692L1573,684L1590,683L1610,684L1636,683.5"/>
<path class="ln" stroke="#4a76f5" stroke-width="4" d="M1003.3,717.5L1023,715M1055,725L1063.3,709.9L1075.7,695.2L1085.7,688M1086,680.5L1100,679.5L1120,680L1140,680.5L1160,679.8L1180,681L1200,680.5L1220,682L1240,682.3L1256,682.6M1293.3,684L1315,678.5M1342.3,686L1366.7,680.5L1385,680.5L1390,684L1398,683.5L1405,681L1518,682M1552,712L1566,692L1573,684L1636,683.5"/>
<g fill="#008800">
<rect x="1003.3" y="805" width="19.7" height="7"/>
<rect x="1023" y="797" width="8.7" height="11"/>
<path d="M1048,812L1060,806L1075,798L1095,790L1095,800L1075,806L1060,812L1048,818Z"/>
<path d="M1095,788L1105,785L1115,788L1125,785.5L1135,788L1145,786L1155,789L1165,785.5L1175,788L1185,786L1195,789L1205,786L1215,788.5L1225,785.5L1235,788L1245,786L1256,788L1256,800L1095,800Z"/>
<path d="M1288,790L1300,786L1310,782L1315,775L1316,765L1317,785L1317,800L1288,802Z"/>
<path d="M1340,790L1350,786L1360,789L1370,786L1380,788.5L1390,785.5L1400,788L1410,786L1420,789L1430,786L1440,788L1450,785.5L1460,788L1470,786L1480,789L1490,786L1500,788L1510,786L1519,788L1519,800L1340,800Z"/>
<path d="M1538,815L1555,803L1575,790L1585,787L1595,789L1605,786L1615,788.5L1625,786L1636,788L1636,800L1575,800L1555,810L1538,822Z"/>
</g>
<path stroke="#008800" stroke-width="1.3" fill="none" d="M1256.7,839V754M1031.7,839H1048M1257,839H1288M1317,839H1340M1519,839H1538"/>
<g fill="#00cc00">
<rect x="1003.3" y="810" width="28.4" height="6"/>
<path d="M1048,822L1095,812L1095,821L1048,826Z"/>
<rect x="1095" y="811" width="161.7" height="9"/>
<rect x="1288" y="806" width="29" height="9"/>
<rect x="1340" y="811" width="179" height="9"/>
<path d="M1538,832L1555,820L1575,811L1636,811L1636,820L1575,820L1555,826L1538,836Z"/>
</g>
<path stroke="#00cc00" stroke-width="1.5" fill="none" d="M1100,820v8M1108,820v5M1116,820v10M1124,820v6M1132,820v9M1140,820v5M1148,820v10M1156,820v6M1164,820v8M1172,820v5M1180,820v10M1188,820v7M1196,820v5M1204,820v9M1212,820v6M1220,820v10M1228,820v5M1236,820v8M1244,820v6M1252,820v10M1293,815v8M1300,815v10M1308,815v6M1345,820v8M1353,820v10M1361,820v6M1369,820v9M1377,820v5M1385,820v10M1393,820v6M1401,820v8M1409,820v5M1417,820v10M1425,820v6M1433,820v9M1441,820v5M1449,820v10M1457,820v6M1465,820v8M1473,820v5M1481,820v10M1489,820v6M1497,820v9M1505,820v5M1513,820v8M1580,820v8M1588,820v10M1596,820v6M1604,820v9M1612,820v5M1620,820v10M1628,820v6M1634,820v8"/>
<path fill="#ee82ee" d="M1003.3,880L1010,876L1016,882L1022,874L1025,862L1027,870L1031,878L1031.5,916L1048,916L1052,895L1058,885L1064,878L1070,882L1078,874L1086,878L1095,876L1110,882L1130,881L1150,882.5L1170,881L1190,882L1210,881L1230,882.5L1250,881L1256,880L1256.7,839.5L1257.5,839.5L1258,892L1275,893L1285,890L1290,878L1295,870L1300,875L1305,865L1310,870L1315,860L1317,850L1318,896L1327,897L1328,848L1334,842L1341,846L1345,862L1352,872L1360,877L1370,880L1390,881L1420,882L1450,881L1480,882L1510,881L1518,880L1519,839.5L1520,918L1536,918L1540,895L1545,880L1550,870L1555,876L1560,866L1566,874L1572,878L1580,881L1600,882L1636,881L1636,898L1580,898L1560,902L1545,908L1538,921L1520,921L1519,898L1370,898L1350,896L1341,890L1328,893L1327,905L1318,905L1317,898L1290,898L1285,900L1258,900L1256,898L1095,898L1080,902L1064,905L1052,912L1048,921L1031.5,921L1031,904L1020,902L1003.3,904Z"/>
<path stroke="#ee82ee" stroke-width="1.2" fill="none" d="M1055,900v-25M1062,895v-28M1068,890v-20M1075,885v-18M1082,880v-14M1110,882v-10M1160,882v-8M1205,882v-9M1395,881v-10M1440,881v-8M1545,890v-28M1553,885v-25M1562,880v-20M1612,881v-12M1630,881v-10"/>
<path class="ln" stroke="#ff0000" stroke-width="3" d="M1003.3,1006.5H1030M1333,1005L1338,1002L1344,1004"/>
<path class="ln" stroke="#0000ff" stroke-width="3" d="M1003.3,1008H1256M1283,1007.5L1290,1006L1300,1005L1310,1003L1315,1001L1316.7,998M1328,1007.5L1334,1004L1338,1001L1342,1003L1346,1006L1355,1007.5H1636"/>
<path class="ln" stroke="#0000ff" stroke-width="1.3" d="M1256.7,1009V931M1317.3,1009V955M1257,1009.3H1283M1318,1009.3H1328"/>

<!-- FRAMES & TICKS -->
<rect x="101.5" y="516" width="7.5" height="483" fill="url(#cm)"/>
<rect x="101.5" y="176" width="4" height="340" fill="url(#cm)"/>
<rect x="1003.3" y="413" width="7.5" height="596.5" fill="url(#cm)"/>
<rect x="1003.3" y="53" width="4" height="360" fill="url(#cm)"/>
<path stroke="#000" stroke-width="1.2" fill="none" d="M101.5,191h8M101.5,204.7h8M101.5,218.5h8M101.5,251h8M101.5,270h8M101.5,303.3h8M101.5,323.3h8M101.5,350h8M101.5,368.3h8M101.5,383.5h8M101.5,403h8M101.5,416.7h8M101.5,429.5h8M101.5,442.5h8M101.5,461.5h8M101.5,472h8M101.5,482.7h8M101.5,493.3h8M101.5,503.9h8M101.5,544.3h22M101.5,570.7h22M101.5,611.7h22M101.5,624.3h22M101.5,637.5h22M101.5,650.7h22M101.5,664h22M101.5,698.3h22M101.5,718.3h22M101.5,738.3h22M101.5,771.7h22M101.5,785h22M101.5,798.3h22M101.5,811.7h22M101.5,825h22M101.5,854h22M101.5,870h22M101.5,886h22M101.5,901.7h22M101.5,932h22M101.5,948.6h22M101.5,965.3h22M101.5,982.3h22"/>
<path stroke="#000" stroke-width="1.2" fill="none" d="M1003.3,67.3h8M1003.3,82.3h8M1003.3,97.3h8M1003.3,132.3h8M1003.3,152.3h8M1003.3,187.3h8M1003.3,209.3h8M1003.3,249.3h8M1003.3,262.3h8M1003.3,275.3h8M1003.3,297.3h8M1003.3,313.3h8M1003.3,330h8M1003.3,356h8M1003.3,366.5h8M1003.3,377.3h8M1003.3,388h8M1003.3,398.7h8M1003.3,431.7h22M1003.3,448.3h22M1003.3,465h22M1003.3,482.3h22M1003.3,521h22M1003.3,542.3h22M1003.3,563.3h22M1003.3,601h22M1003.3,618.3h22M1003.3,635h22M1003.3,652.3h22M1003.3,691h22M1003.3,712.3h22M1003.3,733.3h22M1003.3,768.2h22M1003.3,782.3h22M1003.3,796.5h22M1003.3,810.7h22M1003.3,824.8h22M1003.3,856.1h22M1003.3,873.2h22M1003.3,890.3h22M1003.3,907.4h22M1003.3,935.7h22M1003.3,951h22M1003.3,966h22M1003.3,981h22M1003.3,995.5h22"/>
<g>
<use href="#xt" x="101.5" y="232.3"/><use href="#xt" x="101.5" y="289"/><use href="#xt" x="101.5" y="345.3"/><use href="#xt" x="101.5" y="401.8"/><use href="#xt" x="101.5" y="457.5"/><use href="#xt" x="101.5" y="516"/><use href="#xt" x="101.5" y="597.3"/><use href="#xt" x="101.5" y="677.5"/><use href="#xt" x="101.5" y="758.3"/><use href="#xt" x="101.5" y="838.3"/><use href="#xt" x="101.5" y="918.4"/><use href="#xt" x="101.5" y="999"/>
<use href="#xt" x="1003.3" y="112.3"/><use href="#xt" x="1003.3" y="172.3"/><use href="#xt" x="1003.3" y="231.7"/><use href="#xt" x="1003.3" y="290.5"/><use href="#xt" x="1003.3" y="350"/><use href="#xt" x="1003.3" y="413"/><use href="#xt" x="1003.3" y="499"/><use href="#xt" x="1003.3" y="584"/><use href="#xt" x="1003.3" y="669"/><use href="#xt" x="1003.3" y="754"/><use href="#xt" x="1003.3" y="839"/><use href="#xt" x="1003.3" y="924.5"/><use href="#xt" x="1003.3" y="1009.5"/>
</g>
<path stroke="#000" stroke-width="1.3" fill="none" d="M101.5,176H735M101.5,232.3H735M101.5,289H735M101.5,345.3H735M101.5,401.8H735M101.5,457.5H735M101.5,516H735M101.5,597.3H735M101.5,677.5H735M101.5,758.3H735M101.5,838.3H735M101.5,918.4H735M101.5,999H735"/>
<path stroke="#000" stroke-width="2.2" fill="none" d="M101.5,176V999M735,176V999"/>
<path stroke="#000" stroke-width="1.3" fill="none" d="M1003.3,53H1636M1003.3,112.3H1636M1003.3,172.3H1636M1003.3,231.7H1636M1003.3,290.5H1636M1003.3,350H1636M1003.3,413H1636M1003.3,499H1636M1003.3,584H1636M1003.3,669H1636M1003.3,754H1636M1003.3,839H1636M1003.3,924.5H1636M1003.3,1009.5H1636"/>
<path stroke="#000" stroke-width="2.2" fill="none" d="M1003.3,53V1009.5M1636,53V1009.5"/>

<!-- TICK LABELS -->
<g class="tl" text-anchor="end" transform="translate(98.5,0) scale(0.86,1)">
<text x="0" y="191" dy=".36em">30000</text><text x="0" y="204.7" dy=".36em">20000</text><text x="0" y="218.5" dy=".36em">10000</text>
<text x="0" y="232.3" dy=".36em">1500</text><text x="0" y="251" dy=".36em">1000</text><text x="0" y="270" dy=".36em">500</text><text x="0" y="289" dy=".36em">0</text>
<text x="0" y="303.3" dy=".36em">10</text><text x="0" y="323.3" dy=".36em">5</text><text x="0" y="343.5" dy=".36em">0</text>
<text x="0" y="350" dy=".36em">3</text><text x="0" y="368.3" dy=".36em">2</text><text x="0" y="383.5" dy=".36em">1</text><text x="0" y="399.5" dy=".36em">0</text>
<text x="0" y="403" dy=".36em">4</text><text x="0" y="416.7" dy=".36em">3</text><text x="0" y="429.5" dy=".36em">2</text><text x="0" y="442.5" dy=".36em">1</text><text x="0" y="455.5" dy=".36em">0</text>
<text x="0" y="461.5" dy=".36em">100</text><text x="0" y="472" dy=".36em">80</text><text x="0" y="482.7" dy=".36em">60</text><text x="0" y="493.3" dy=".36em">40</text><text x="0" y="503.9" dy=".36em">20</text><text x="0" y="513.5" dy=".36em">0</text>
<text x="0" y="517" dy=".36em">15000</text><text x="0" y="544.3" dy=".36em">10000</text><text x="0" y="570.7" dy=".36em">5000</text>
<text x="0" y="597.3" dy=".36em">30</text><text x="0" y="611.7" dy=".36em">25</text><text x="0" y="624.3" dy=".36em">20</text><text x="0" y="637.5" dy=".36em">15</text><text x="0" y="650.7" dy=".36em">10</text><text x="0" y="664" dy=".36em">5</text><text x="0" y="677.3" dy=".36em">0</text>
<text x="0" y="678.5" dy=".36em">4</text><text x="0" y="698.3" dy=".36em">3</text><text x="0" y="718.3" dy=".36em">2</text><text x="0" y="738.3" dy=".36em">1</text>
<text x="0" y="758.3" dy=".36em">300</text><text x="0" y="771.7" dy=".36em">250</text><text x="0" y="785" dy=".36em">200</text><text x="0" y="798.3" dy=".36em">150</text><text x="0" y="811.7" dy=".36em">100</text><text x="0" y="825" dy=".36em">50</text><text x="0" y="837.5" dy=".36em">0</text>
<text x="0" y="839" dy=".36em">50</text><text x="0" y="854" dy=".36em">40</text><text x="0" y="870" dy=".36em">30</text><text x="0" y="886" dy=".36em">20</text><text x="0" y="901.7" dy=".36em">10</text><text x="0" y="917.3" dy=".36em">0</text>
<text x="0" y="932" dy=".36em">400</text><text x="0" y="948.6" dy=".36em">300</text><text x="0" y="965.3" dy=".36em">200</text><text x="0" y="982.3" dy=".36em">100</text><text x="0" y="998.7" dy=".36em">0</text>
</g>
<g class="tl" text-anchor="end" transform="translate(1000.3,0) scale(0.86,1)">
<text x="0" y="67.3" dy=".36em">30000</text><text x="0" y="82.3" dy=".36em">20000</text><text x="0" y="97.3" dy=".36em">10000</text>
<text x="0" y="112.3" dy=".36em">1500</text><text x="0" y="132.3" dy=".36em">1000</text><text x="0" y="152.3" dy=".36em">500</text><text x="0" y="172.3" dy=".36em">0</text>
<text x="0" y="187.3" dy=".36em">10</text><text x="0" y="209.3" dy=".36em">5</text><text x="0" y="231" dy=".36em">0</text>
<text x="0" y="234" dy=".36em">2</text><text x="0" y="249.3" dy=".36em">1.5</text><text x="0" y="262.3" dy=".36em">1</text><text x="0" y="275.3" dy=".36em">0.5</text><text x="0" y="288.3" dy=".36em">0</text>
<text x="0" y="297.3" dy=".36em">1.5</text><text x="0" y="313.3" dy=".36em">1</text><text x="0" y="330" dy=".36em">0.5</text><text x="0" y="346.3" dy=".36em">0</text>
<text x="0" y="356" dy=".36em">100</text><text x="0" y="366.5" dy=".36em">80</text><text x="0" y="377.3" dy=".36em">60</text><text x="0" y="388" dy=".36em">40</text><text x="0" y="398.7" dy=".36em">20</text><text x="0" y="409.3" dy=".36em">0</text>
<text x="0" y="414.5" dy=".36em">5000</text><text x="0" y="431.7" dy=".36em">4000</text><text x="0" y="448.3" dy=".36em">3000</text><text x="0" y="465" dy=".36em">2000</text><text x="0" y="482.3" dy=".36em">1000</text>
<text x="0" y="499" dy=".36em">20</text><text x="0" y="521" dy=".36em">15</text><text x="0" y="542.3" dy=".36em">10</text><text x="0" y="563.3" dy=".36em">5</text><text x="0" y="584" dy=".36em">0</text>
<text x="0" y="585" dy=".36em">5</text><text x="0" y="601" dy=".36em">4</text><text x="0" y="618.3" dy=".36em">3</text><text x="0" y="635" dy=".36em">2</text><text x="0" y="652.3" dy=".36em">1</text><text x="0" y="668.5" dy=".36em">0</text>
<text x="0" y="669.5" dy=".36em">4</text><text x="0" y="691" dy=".36em">3</text><text x="0" y="712.3" dy=".36em">2</text><text x="0" y="733.3" dy=".36em">1</text>
<text x="0" y="754" dy=".36em">300</text><text x="0" y="768.2" dy=".36em">250</text><text x="0" y="782.3" dy=".36em">200</text><text x="0" y="796.5" dy=".36em">150</text><text x="0" y="810.7" dy=".36em">100</text><text x="0" y="824.8" dy=".36em">50</text><text x="0" y="838.5" dy=".36em">0</text>
<text x="0" y="839.5" dy=".36em">50</text><text x="0" y="856.1" dy=".36em">40</text><text x="0" y="873.2" dy=".36em">30</text><text x="0" y="890.3" dy=".36em">20</text><text x="0" y="907.4" dy=".36em">10</text><text x="0" y="924.5" dy=".36em">0</text>
<text x="0" y="935.7" dy=".36em">10000</text><text x="0" y="951" dy=".36em">8000</text><text x="0" y="966" dy=".36em">6000</text><text x="0" y="981" dy=".36em">4000</text><text x="0" y="995.5" dy=".36em">2000</text><text x="0" y="1010" dy=".36em">0</text>
</g>

<!-- AXIS TITLES -->
<g text-anchor="middle">
<text class="ti" transform="translate(56,204) rotate(-90)">Luminosity</text>
<text class="ti" transform="translate(63,262) rotate(-90)">I[mA]</text>
<text class="ti" transform="translate(64,317) rotate(-90)">Rep.</text>
<text class="ti" transform="translate(79,317) rotate(-90)">Rate[Hz]</text>
<text class="ti" transform="translate(87,372) rotate(-90)">Q[nC]</text>
<text class="ti" transform="translate(87,429) rotate(-90)">[mA/s]</text>
<text class="ti" transform="translate(71,484) rotate(-90)">[%]</text>
<text class="tb" transform="translate(49.5,557) rotate(-90)">ECL_BW</text>
<text class="tb" transform="translate(75.5,637) rotate(-90)">[ms]</text>
<text class="ti" transform="translate(85,717) rotate(-90)">[Hz]</text>
<text class="tb" transform="translate(66.5,797) rotate(-90)">[uA]</text>
<text class="tb" transform="translate(74.5,878) rotate(-90)">[mRad/s]</text>
<text class="ti" transform="translate(69,958) rotate(-90)">VXD</text>
<text class="ti" transform="translate(956.5,82) rotate(-90)">Luminosity</text>
<text class="ti" transform="translate(964.5,142) rotate(-90)">I[mA]</text>
<text class="ti" transform="translate(965.5,203) rotate(-90)">Rep.</text>
<text class="ti" transform="translate(980.5,203) rotate(-90)">Rate[Hz]</text>
<text class="ti" transform="translate(971.5,263) rotate(-90)">Q[nC]</text>
<text class="ti" transform="translate(972,320) rotate(-90)">[mA/s]</text>
<text class="ti" transform="translate(971.5,378) rotate(-90)">[%]</text>
<text class="tb" style="font-size:14.5px" transform="translate(960,457) rotate(-90)">ECL_FW</text>
<text class="tb" transform="translate(978,542) rotate(-90)">[ms]</text>
<text class="ti" transform="translate(976,627.5) rotate(-90)">Photon</text>
<text class="ti" transform="translate(991.5,627) rotate(-90)">Rate</text>
<text class="ti" transform="translate(987.5,712) rotate(-90)">[Hz]</text>
<text class="tb" transform="translate(969.5,796) rotate(-90)">[uA]</text>
<text class="tb" transform="translate(969.5,882) rotate(-90)">[mRad/s]</text>
<text class="tb" transform="translate(955.5,967.5) rotate(-90)">VXD</text>
</g>
<text x="38.3" y="695" style="font-size:14px">x10</text><text x="64" y="687.5" style="font-size:12px">6</text>
<text x="939.3" y="602.7" style="font-size:14px">x10</text><text x="965" y="595" style="font-size:12px">5</text>
<text x="939.3" y="687.3" style="font-size:14px">x10</text><text x="965" y="680" style="font-size:12px">6</text>

<!-- TIME AXIS -->
<g>
<text class="ax" x="87.3" y="1025.7">0</text><text class="sup" x="100" y="1017">h</text><text class="ax" x="110.5" y="1025.7">0</text><text class="sup" x="121.7" y="1017">m</text><text class="ax" x="132.3" y="1025.7">0</text><text class="sup" x="145.7" y="1017">s</text>
<text class="ax" x="161.4" y="1025.7">1</text><text class="sup" x="172.4" y="1017">h</text>
<text class="ax" x="231.8" y="1025.7">2</text><text class="sup" x="242.8" y="1017">h</text>
<text class="ax" x="302.2" y="1025.7">3</text><text class="sup" x="313.2" y="1017">h</text>
<text class="ax" x="372.6" y="1025.7">4</text><text class="sup" x="383.6" y="1017">h</text>
<text class="ax" x="443" y="1025.7">5</text><text class="sup" x="454" y="1017">h</text>
<text class="ax" x="513.4" y="1025.7">6</text><text class="sup" x="524.4" y="1017">h</text>
<text class="ax" x="583.8" y="1025.7">7</text><text class="sup" x="594.8" y="1017">h</text>
<text class="ax" x="654.2" y="1025.7">8</text><text class="sup" x="665.2" y="1017">h</text>
<text x="51.7" y="1050" style="font-size:19px">2/4/2026</text>
<text class="ax" x="1059.3" y="1036.7">1</text><text class="sup" x="1070.5" y="1028">h</text><text class="ax" x="1081" y="1036.7">0</text><text class="sup" x="1092.3" y="1028">m</text><text class="ax" x="1103" y="1036.7">0</text><text class="sup" x="1116" y="1028">s</text>
<text class="ax" x="1133.6" y="1036.7">2</text><text class="sup" x="1144.6" y="1028">h</text>
<text class="ax" x="1204" y="1036.7">3</text><text class="sup" x="1215" y="1028">h</text>
<text class="ax" x="1274.4" y="1036.7">4</text><text class="sup" x="1285.4" y="1028">h</text>
<text class="ax" x="1344.8" y="1036.7">5</text><text class="sup" x="1355.8" y="1028">h</text>
<text class="ax" x="1415.2" y="1036.7">6</text><text class="sup" x="1426.2" y="1028">h</text>
<text class="ax" x="1485.6" y="1036.7">7</text><text class="sup" x="1496.6" y="1028">h</text>
<text class="ax" x="1556" y="1036.7">8</text><text class="sup" x="1567" y="1028">h</text>
<text class="ax" x="1626.4" y="1036.7">9</text><text class="sup" x="1637.4" y="1028">h</text>
<text x="1022.7" y="1060.7" style="font-size:19px">2/4/2026</text>
</g>
</svg>
</body></html>
